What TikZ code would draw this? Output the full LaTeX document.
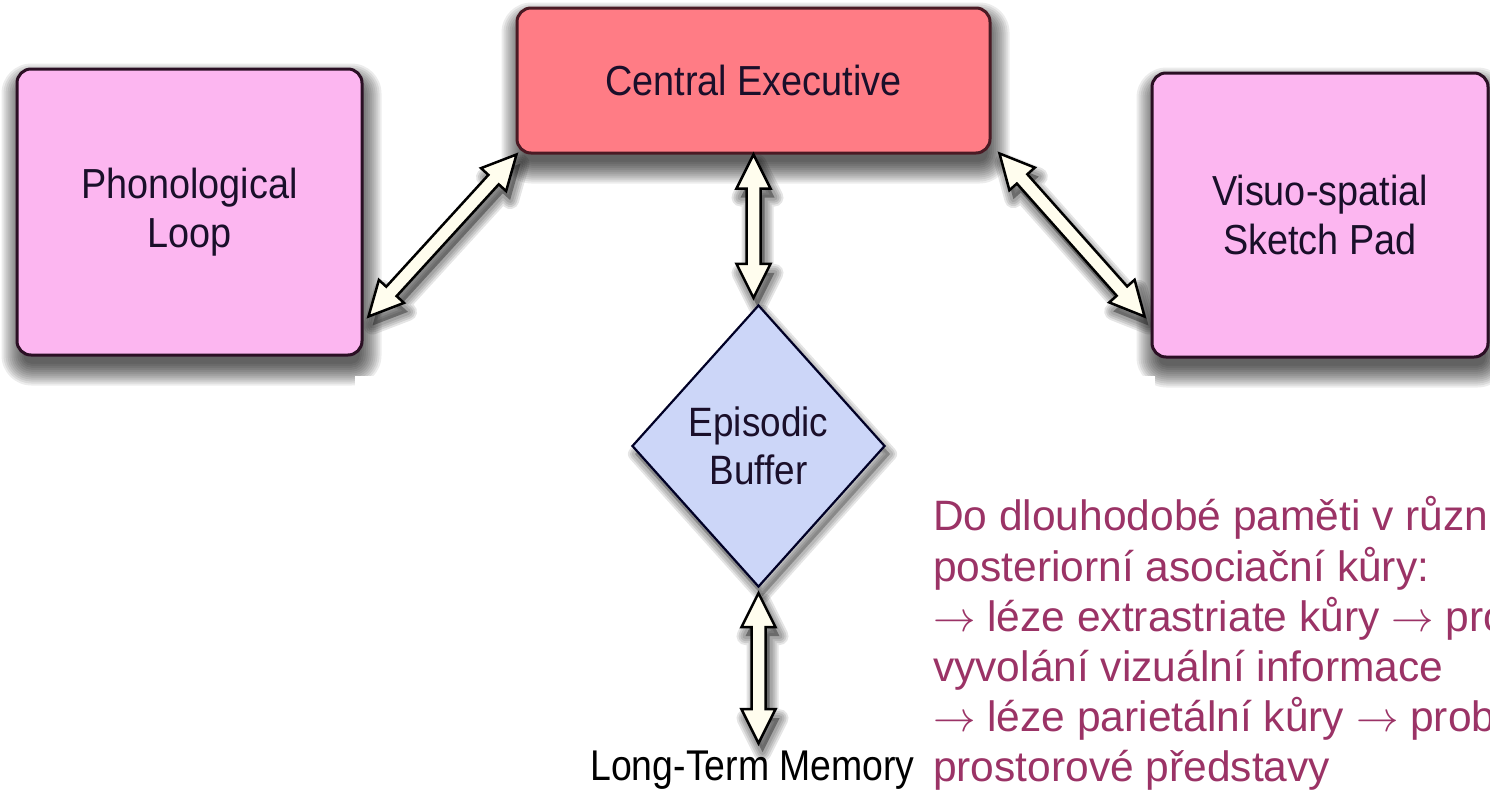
\RequirePackage{fix-cm}
\documentclass[tikz,border=0pt]{standalone}
\usepackage{fontspec}
\setmainfont{Liberation Sans}
\newfontfamily\boxfont[FakeStretch=0.9]{Liberation Sans}
\newfontfamily\ltmfont[FakeStretch=0.87]{Liberation Sans}
\usetikzlibrary{shapes.geometric,calc}
\pgfdeclarelayer{bgpage}
\pgfdeclarelayer{background}
\pgfsetlayers{bgpage,background,main}
\definecolor{pinkfill}{HTML}{FCB6F0}
\definecolor{cefill}{HTML}{FF7C85}
\definecolor{diafill}{HTML}{CCD6F8}
\definecolor{arrowfill}{HTML}{FFFDEE}
\definecolor{boxline}{HTML}{2B0F24}
\definecolor{celine}{HTML}{4A1A24}
\definecolor{boxtext}{HTML}{1A0F2A}
\definecolor{notecol}{HTML}{9B3366}
\tikzset{
  box/.style={draw=boxline, line width=3pt, rounded corners=14pt, inner sep=0pt,
    align=center, text=boxtext, font=\boxfont\fontsize{42}{49}\selectfont},
  blockarrow/.style={draw=black, line width=2.5pt, fill=arrowfill, line join=miter},
  shadowlayer/.style={fill=black, fill opacity=0.075},
  shadowring/.style={draw=black, draw opacity=0.1, line join=round},
  notetext/.style={anchor=base west, inner sep=0pt, text=notecol,
    font=\fontsize{42.5}{50.8}\selectfont},
}
% soft shadow below a box node
\newcommand{\boxshadow}[1]{%
  \begin{pgfonlayer}{background}
  \foreach \r in {-6,-4,...,16} {
    \fill[shadowlayer, rounded corners=14+\r]
      ($(#1.north west)+(2-\r,12-\r)$) rectangle ($(#1.south east)+(2+\r,13+\r)$);
  }
  \end{pgfonlayer}}
% outline of a double block arrow between two named points
\newcommand{\arrowpts}[2]{(#1) -- ($(ha)!17pt!90:(#2)$) -- ($(ha)!7pt!90:(#2)$)
    -- ($(hb)!7pt!-90:(#1)$) -- ($(hb)!17pt!-90:(#1)$) -- (#2)
    -- ($(hb)!17pt!90:(#1)$) -- ($(hb)!7pt!90:(#1)$)
    -- ($(ha)!7pt!-90:(#2)$) -- ($(ha)!17pt!-90:(#2)$) -- cycle}
\newcommand{\dblarrow}[2]{%
  \coordinate (ha) at ($(#1)!34pt!(#2)$);
  \coordinate (hb) at ($(#2)!34pt!(#1)$);
  \begin{pgfonlayer}{background}
  \foreach \w in {18,14,10,6} {
    \path[shadowring, line width=\w pt, transform canvas={shift={(4pt,-9pt)}}] \arrowpts{#1}{#2};
  }
  \path[fill=black, fill opacity=0.35, transform canvas={shift={(4pt,-9pt)}}] \arrowpts{#1}{#2};
  \end{pgfonlayer}
  \path[blockarrow] \arrowpts{#1}{#2};
}
\begin{document}
\begin{tikzpicture}[x=1pt,y=-1pt]
\begin{pgfonlayer}{bgpage}
\fill[white] (0,0) rectangle (1490,790);
\end{pgfonlayer}
\useasboundingbox (0,0) rectangle (1490,790);

% boxes
\node[box, fill=pinkfill, minimum width=345pt, minimum height=286pt] (PL) at (189.5,212) {Phonological\\Loop};
\node[box, fill=cefill, draw=celine, minimum width=473pt, minimum height=145pt] (CE) at (753.5,80.5) {Central Executive};
\node[box, fill=pinkfill, minimum width=336pt, minimum height=284pt] (VS) at (1320,215) {Visuo-spatial\\Sketch Pad};
\boxshadow{PL}
\boxshadow{CE}
\boxshadow{VS}

% white patch of the pasted lower part
\begin{pgfonlayer}{background}
\fill[white] (355,376) rectangle (1155,790);
\end{pgfonlayer}

% episodic buffer
\node[shape=diamond, draw=black!85!blue, line width=2.2pt, fill=diafill, inner sep=0pt,
  minimum width=253pt, minimum height=282pt, align=center, text=boxtext,
  font=\boxfont\fontsize{41}{48}\selectfont] (EB) at (758.5,446) {Episodic\\Buffer};
\begin{pgfonlayer}{background}
\foreach \w in {14,10,6} {
  \path[shadowring, line width=\w pt, transform canvas={shift={(4pt,-8pt)}}]
    (EB.north) -- (EB.east) -- (EB.south) -- (EB.west) -- cycle;
}
\path[fill=black, fill opacity=0.25, transform canvas={shift={(4pt,-8pt)}}]
  (EB.north) -- (EB.east) -- (EB.south) -- (EB.west) -- cycle;
\end{pgfonlayer}

% long-term memory label
\node[anchor=base, inner sep=0pt, text=black, font=\ltmfont\fontsize{43}{48}\selectfont] (LTM) at (752.5,780) {Long-Term Memory};

% connector end points
\coordinate (plend) at ($(PL.south east)+(5,-40)$);
\coordinate (ceL) at ($(CE.south west)+(1,0)$);
\coordinate (ceR) at ($(CE.south east)+(8,-1)$);
\coordinate (vsend) at ($(VS.south west)+(-6,-42)$);
\coordinate (ceS) at (CE.south);
\coordinate (ebN) at ($(CE.south |- EB.north)+(0,-6)$);
\coordinate (ebS) at ($(EB.south)+(0,5)$);
\coordinate (ltmtop) at ($(EB.south |- LTM.north)+(0,-7)$);

% connectors
\dblarrow{ceL}{plend}
\dblarrow{ceR}{vsend}
\dblarrow{ceS}{ebN}
\dblarrow{ebS}{ltmtop}

% Czech note
\node[notetext] (c1) at (933,530) {Do dlouhodobé paměti v různ};
\node[notetext] (c2) at (933,581) {posteriorní asociační kůry:};
\node[notetext] (c3) at (933,631) {$\rightarrow$ léze extrastriate kůry $\rightarrow$ pro};
\node[notetext] (c4) at (933,681) {vyvolání vizuální informace};
\node[notetext] (c5) at (933,731) {$\rightarrow$ léze parietální kůry $\rightarrow$ prob};
\node[notetext] (c6) at (933,781) {prostorové představy};
\end{tikzpicture}
\end{document}
